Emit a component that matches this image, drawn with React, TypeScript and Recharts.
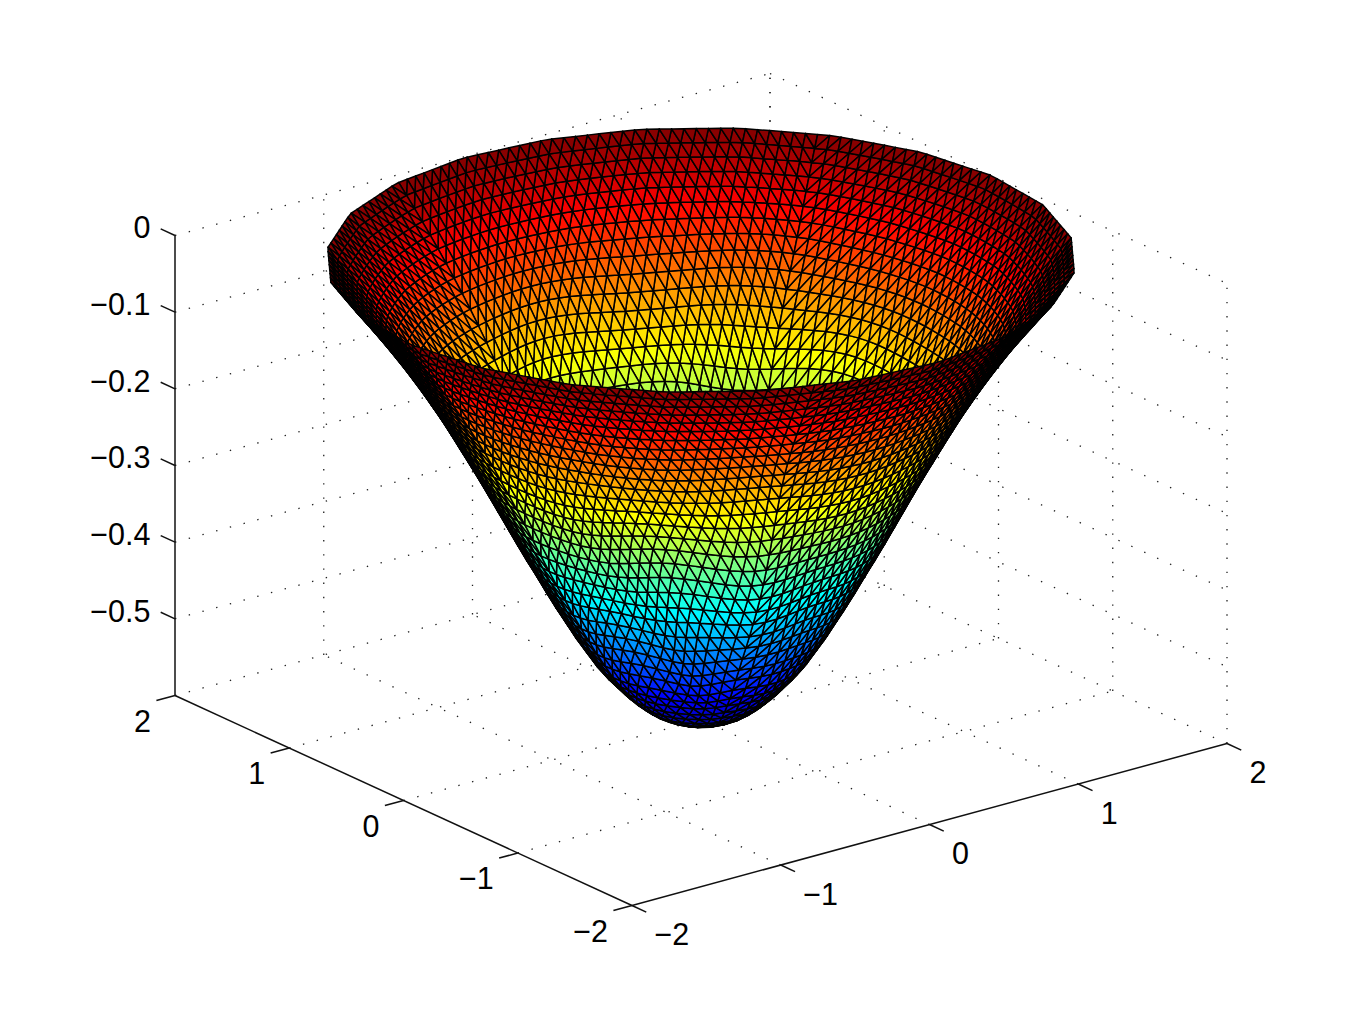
import React from "react";
import { ComposedChart, XAxis, YAxis, Line, Scatter } from "recharts";

// --- values ---
const xTicks = [-2, -1, 0, 1, 2];
const yTicks = [-2, -1, 0, 1, 2];
const zTicks = [0, -0.1, -0.2, -0.3, -0.4, -0.5];
const zFloor = -0.6;
// surface height on each concentric mesh ring, centre (first) to rim (last)
const ringZ = [
  -0.604, -0.603, -0.601, -0.597, -0.592, -0.586, -0.578, -0.568, -0.557, -0.544,
  -0.531, -0.516, -0.498, -0.48, -0.46, -0.44, -0.419, -0.397, -0.376, -0.354,
  -0.3315, -0.309, -0.2865, -0.2645, -0.243, -0.222, -0.201, -0.1805, -0.1613, -0.1426,
  -0.1246, -0.1073, -0.0906, -0.0745, -0.059, -0.044, -0.0293, -0.0149, -0.0008,
];
const rimRadius = 2;
const rimSides = 24;
const jetPos = [0, 0.125, 0.375, 0.625, 0.875, 1];
const jetRed = [0, 0, 0, 255, 255, 128];
const jetGreen = [0, 0, 255, 255, 0, 0];
const jetBlue = [128, 255, 255, 0, 0, 0];

// --- 3D view: chart units per data unit ---
const W = 1353;
const H = 1017;
const front = { x: 632, y: 905.5 };
const ex = { x: 148.75, y: -40.5 };
const ey = { x: -114.25, y: -52.5 };
const ez = -766.67;

const project = (x: number, y: number, z: number) => ({
  sx: front.x + (x + 2) * ex.x + (y + 2) * ey.x,
  sy: front.y + (x + 2) * ex.y + (y + 2) * ey.y + (z - zFloor) * ez,
});

const jet = (t: number) => {
  const v = Math.max(0, Math.min(1, t));
  let i = 0;
  while (i < jetPos.length - 2 && v > jetPos[i + 1]) i++;
  const f = (v - jetPos[i]) / (jetPos[i + 1] - jetPos[i]);
  const c = (a: number[]) => Math.round(a[i] + (a[i + 1] - a[i]) * f);
  return `rgb(${c(jetRed)},${c(jetGreen)},${c(jetBlue)})`;
};

// --- triangulated disc; vertices slide a little along the surface so that
// the rows of triangles wave the way the mesh in the picture does ---
type V = { x: number; y: number; z: number; sx: number; sy: number };
const N = ringZ.length - 1;
const SECTORS = 5;
const heightOnSurface = (ring: number) => {
  const a = Math.max(0, Math.min(N - 1, Math.floor(ring)));
  const f = ring - a;
  return ringZ[a] + (ringZ[a + 1] - ringZ[a]) * f;
};
const vertex = (k: number, j: number): V => {
  if (k === 0) return { x: 0, y: 0, z: ringZ[0], ...project(0, 0, ringZ[0]) };
  const count = SECTORS * k;
  const base = (2 * Math.PI * (((j % count) + count) % count)) / count;
  const mask = Math.pow(Math.sin(base), 2);
  const bell = mask * Math.pow(Math.sin((Math.PI * k) / N), 2);
  const ring =
    k + bell * (0.28 * Math.sin(5 * base + 0.25 * k) + 0.16 * Math.sin(9 * base - 0.4 * k + 1));
  const phi = base + (bell * 0.3 * Math.sin(7 * base - 0.3 * k + 2) * 2 * Math.PI) / count;
  const step = (2 * Math.PI) / rimSides;
  const rel = (((phi + 0.166) % step) + step) % step - step / 2;
  const poly = Math.cos(step / 2) / Math.cos(rel);
  const w = Math.pow(k / N, 8);
  const r = (rimRadius * ring * (1 + (poly - 1) * w)) / N;
  const u = r * Math.cos(phi);
  const v = r * Math.sin(phi);
  const x = 0.793 * u - 0.612 * v;
  const y = -0.609 * u - 0.791 * v;
  const z = heightOnSurface(ring);
  return { x, y, z, ...project(x, y, z) };
};

const facet = (a: V, b: V, c: V) => {
  const z = (a.z + b.z + c.z) / 3;
  const g = project((a.x + b.x + c.x) / 3, (a.y + b.y + c.y) / 3, z);
  return {
    sx: g.sx,
    sy: g.sy,
    depth: (a.x + b.x + c.x) / 3 + (1.302 * (a.y + b.y + c.y)) / 3 - 6.25 * z,
    fill: jet((z - ringZ[0]) / (0 - ringZ[0])),
    pts: [a, b, c].map((p) => [p.sx - g.sx, p.sy - g.sy]),
  };
};

const facets: ReturnType<typeof facet>[] = [];
for (let k = 0; k < N; k++) {
  for (let s = 0; s < SECTORS; s++) {
    for (let i = 0; i <= k; i++) {
      const o0 = s * (k + 1) + i;
      const o1 = s * k + i;
      facets.push(facet(vertex(k + 1, o0), vertex(k + 1, o0 + 1), vertex(k, o1)));
      if (i < k) facets.push(facet(vertex(k, o1), vertex(k, o1 + 1), vertex(k + 1, o0 + 1)));
    }
  }
}
facets.sort((a, b) => b.depth - a.depth);

// --- walls and axes ---
const seg = (a: number[], b: number[]) => [
  project(a[0], a[1], a[2]),
  project(b[0], b[1], b[2]),
];
const inner = xTicks.slice(1);
const gridLines = [
  ...inner.map((v) => seg([v, -2, zFloor], [v, 2, zFloor])),
  ...yTicks.slice(1).map((v) => seg([-2, v, zFloor], [2, v, zFloor])),
  ...zTicks.map((z) => seg([-2, 2, z], [2, 2, z])),
  ...zTicks.map((z) => seg([2, 2, z], [2, -2, z])),
  ...inner.map((v) => seg([v, 2, zFloor], [v, 2, 0])),
  ...yTicks.map((v) => seg([2, v, zFloor], [2, v, 0])),
];
const tickLen = 0.125;
const axisLines = [
  seg([-2, 2, zFloor], [-2, 2, 0]),
  seg([-2, -2, zFloor], [-2, 2, zFloor]),
  seg([-2, -2, zFloor], [2, -2, zFloor]),
  ...zTicks.map((z) => seg([-2, 2, z], [-2, 2 + tickLen, z])),
  ...yTicks.map((v) => seg([-2, v, zFloor], [-2 - tickLen, v, zFloor])),
  ...xTicks.map((v) => seg([v, -2, zFloor], [v, -2 - tickLen, zFloor])),
];
const minus = (v: number) => (v < 0 ? "\u2212" : "") + Math.abs(v);
const label = (p: { sx: number; sy: number }, text: string, anchor: string, dx: number, dy: number) => ({
  sx: p.sx + dx,
  sy: p.sy + dy,
  text,
  anchor,
});
const labels = [
  ...zTicks.map((z) => label(project(-2, 2, z), minus(z), "end", -24.5, 3)),
  ...yTicks.map((v) => label(project(-2, v, zFloor), minus(v), "end", -24, 36)),
  ...xTicks.map((v) => label(project(v, -2, zFloor), minus(v), "start", 22.5, 39.5)),
];

const FacetShape = (p: any) => {
  const d = p.payload;
  const points = d.pts.map((q: number[]) => `${p.cx + q[0]},${p.cy + q[1]}`).join(" ");
  return <polygon points={points} fill={d.fill} stroke="#000" strokeWidth={1.5} strokeLinejoin="round" />;
};
const LabelShape = (p: any) => (
  <text
    x={p.cx}
    y={p.cy}
    textAnchor={p.payload.anchor}
    fontFamily="'Liberation Sans', Arial, sans-serif"
    fontSize={30.5}
    fill="#000"
  >
    {p.payload.text}
  </text>
);

export default function App() {
  return (
    <div style={{ position: "absolute", left: 0, top: 0, width: W, height: H, background: "#fff" }}>
      <ComposedChart width={W} height={H} margin={{ top: 0, right: 0, bottom: 0, left: 0 }}>
        <XAxis type="number" dataKey="sx" domain={[0, W]} hide allowDataOverflow />
        <YAxis type="number" dataKey="sy" domain={[0, H]} reversed hide allowDataOverflow />
        {gridLines.map((d, i) => (
          <Line
            key={`g${i}`}
            data={d}
            dataKey="sy"
            dot={false}
            activeDot={false}
            stroke="#222"
            strokeWidth={1.3}
            strokeDasharray="1.4 12.8"
            isAnimationActive={false}
          />
        ))}
        {axisLines.map((d, i) => (
          <Line
            key={`a${i}`}
            data={d}
            dataKey="sy"
            dot={false}
            activeDot={false}
            stroke="#111"
            strokeWidth={1.5}
            isAnimationActive={false}
          />
        ))}
        <Scatter data={facets} shape={FacetShape} isAnimationActive={false} />
        <Scatter data={labels} shape={LabelShape} isAnimationActive={false} />
      </ComposedChart>
    </div>
  );
}
